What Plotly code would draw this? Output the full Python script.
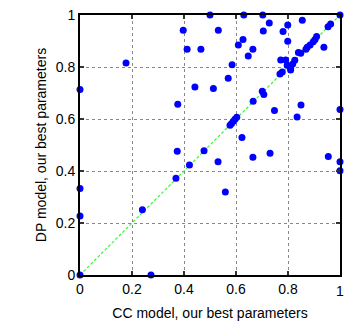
import plotly.graph_objects as go

# Per-instance scores under the two models
cc_score = [
    0.50, 0.397, 0.412, 0.465, 0.177, 0.0, 0.442, 0.376, 0.630, 0.703,
    1.0, 0.728, 0.799, 0.855, 0.954, 0.964, 0.532, 0.705, 0.781, 0.627,
    0.609, 0.799, 0.665, 0.647, 0.938, 0.910, 0.904, 0.897, 0.885, 0.874,
    0.869, 0.840, 0.849, 0.772, 0.791, 0.826, 0.810, 0.818, 0.585, 0.797,
    0.810, 0.778, 0.769, 0.570, 0.513, 0.701, 0.707, 0.666, 0.748, 0.850,
    0.835, 1.0, 0.603, 0.596, 0.590, 0.583, 0.577, 0.623, 0.374, 0.477,
    0.421, 0.369, 0.0, 0.0, 0.240, 0.0, 0.273, 0.531, 0.665, 0.731,
    0.955, 1.0, 1.0, 0.559,
]
dp_score = [
    1.0, 0.941, 0.868, 0.868, 0.815, 0.713, 0.723, 0.657, 1.0, 1.0,
    1.0, 0.969, 0.962, 0.980, 0.955, 0.965, 0.941, 0.938, 0.937, 0.906,
    0.885, 0.899, 0.868, 0.842, 0.876, 0.917, 0.906, 0.897, 0.885, 0.876,
    0.868, 0.856, 0.853, 0.827, 0.827, 0.826, 0.795, 0.812, 0.809, 0.807,
    0.788, 0.781, 0.773, 0.757, 0.717, 0.707, 0.694, 0.668, 0.633, 0.654,
    0.608, 0.637, 0.607, 0.599, 0.591, 0.583, 0.576, 0.529, 0.476, 0.478,
    0.423, 0.372, 0.333, 0.227, 0.251, 0.0, 0.0, 0.436, 0.453, 0.468,
    0.456, 0.436, 0.401, 0.319,
]

diag = [0, 1]
tick_vals = [0, 0.2, 0.4, 0.6, 0.8, 1]
tick_text = ["0", "0.2", "0.4", "0.6", "0.8", "1"]

font = dict(family="Liberation Sans", size=14, color="black")

fig = go.Figure()
fig.add_trace(go.Scatter(
    x=diag, y=diag, mode="lines",
    line=dict(color="#44ee44", width=1.2, dash="3px,2px"),
    hoverinfo="skip", showlegend=False,
))
fig.add_trace(go.Scatter(
    x=cc_score, y=dp_score, mode="markers",
    marker=dict(color="#0000ff", size=7, line=dict(width=0)),
    cliponaxis=False, showlegend=False,
))

axis_common = dict(
    range=[0, 1], tickvals=tick_vals,
    showline=True, linecolor="black", linewidth=2, mirror="ticks",
    ticks="inside", ticklen=4, tickwidth=1.5, tickcolor="#333",
    showgrid=True, gridcolor="#888", griddash="dot", gridwidth=1,
    zeroline=False, automargin=False,
    tickfont=font,
)

# The last x label sits on the page edge, where plotly drops it; place it
# as an annotation anchored to the same axis value instead.
fig.update_xaxes(
    **axis_common,
    ticktext=tick_text[:-1] + [""],
    title=dict(text="CC model, our best parameters", font=font, standoff=12),
)
fig.update_yaxes(
    **axis_common,
    ticktext=tick_text,
    title=dict(text="DP model, our best parameters", font=font, standoff=6),
)
fig.add_annotation(
    x=tick_vals[-1], xref="x", y=0, yref="paper",
    text=tick_text[-1], showarrow=False, font=font,
    xanchor="center", yanchor="top", yshift=-6,
)

fig.update_layout(
    width=344, height=321,
    margin=dict(l=80, r=4, t=15, b=46),
    plot_bgcolor="white", paper_bgcolor="white",
)

fig.write_html("out.html")
